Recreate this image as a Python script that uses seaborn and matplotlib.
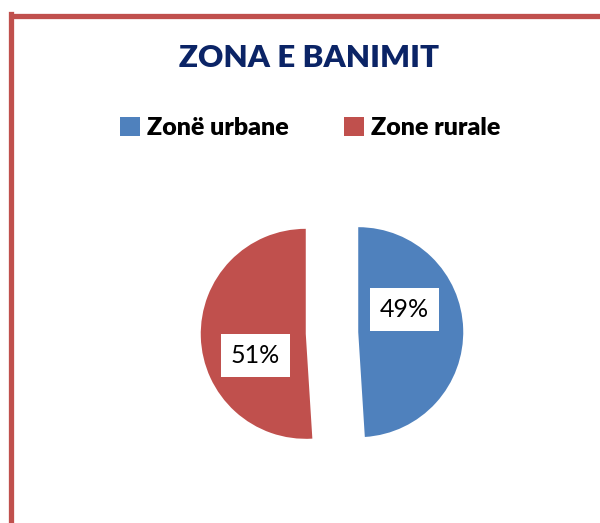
import matplotlib
matplotlib.use("Agg")
import matplotlib.pyplot as plt
import seaborn as sns
from matplotlib.lines import Line2D

sns.set_theme(style="white")
plt.rcParams['font.family'] = ['Lato', 'DejaVu Sans']

title = "ZONA E BANIMIT"
categories = ["Zonë urbane", "Zone rurale"]
values = [49, 51]
colors = ["#4F81BD", "#C0504D"]

W, H, DPI = 600, 523, 100
fig = plt.figure(figsize=(W / DPI, H / DPI), dpi=DPI)
fig.patch.set_facecolor("white")

R = 105.0  # pie radius in pixels
cx, cy = 332, 333  # pie centre (pixels from top-left)
ax = fig.add_axes([0, 0, 1, 1])

wedges, texts, autotexts = ax.pie(
    values, colors=colors, startangle=90, counterclock=False,
    explode=[0.25, 0.25], radius=1, autopct="%1.0f%%",
    wedgeprops=dict(linewidth=0),
    textprops=dict(fontsize=18, color="black"),
)
ax.set_xlim(-cx / R, (W - cx) / R)
ax.set_ylim(-(H - cy) / R, cy / R)
ax.set_aspect("equal")
ax.axis("off")

# label positions relative to each wedge centre (in radius units)
offsets = [(0.44, 0.22), (-0.48, -0.21)]
for w, t, (dx, dy) in zip(wedges, autotexts, offsets):
    wx, wy = w.center
    t.set_position((wx + dx, wy + dy))
    t.set_ha("center"); t.set_va("center")
    t.set_bbox(dict(facecolor="white", edgecolor="none", boxstyle="square,pad=0.4"))

fig.text(0.515, 1 - 58 / H, title, ha="center", va="center",
         fontsize=22.5, fontweight="heavy", color="#0B2466")

leg = fig.legend(wedges, categories, loc="center", bbox_to_anchor=(0.517, 1 - 128 / H),
                 ncol=2, frameon=False, handlelength=0.8, handleheight=0.8,
                 handletextpad=0.3, columnspacing=2.2,
                 prop=dict(size=18, weight="heavy"), labelcolor="black")

# red frame (left and top edges)
fig.add_artist(Line2D([10.5 / W, 10.5 / W], [0, 1 - 14 / H], color="#C0504D",
                      linewidth=3.8, transform=fig.transFigure, solid_capstyle="projecting"))
fig.add_artist(Line2D([10.5 / W, 1], [1 - 16.5 / H, 1 - 16.5 / H], color="#C0504D",
                      linewidth=3.8, transform=fig.transFigure, solid_capstyle="butt"))

fig.savefig("out.png", dpi=DPI)
